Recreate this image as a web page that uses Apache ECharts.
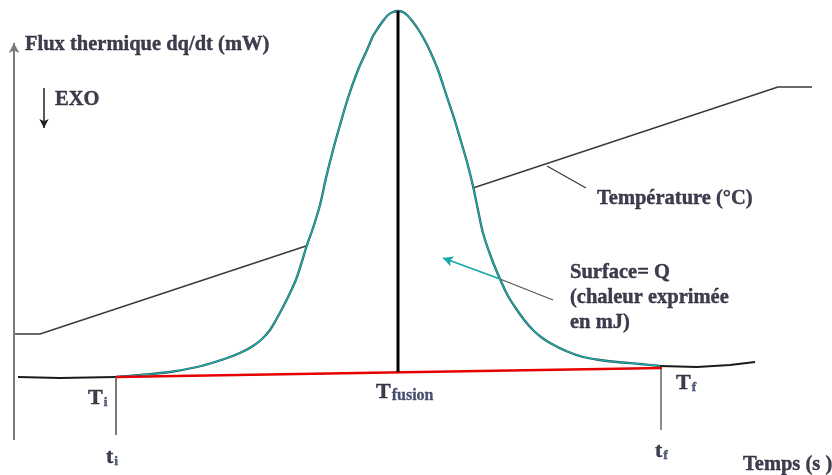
<!DOCTYPE html>
<html><head><meta charset="utf-8">
<script src="https://cdn.jsdelivr.net/npm/echarts@6/dist/echarts.min.js"></script>
<style>html,body{margin:0;padding:0;background:#fff}#c{width:832px;height:475px}</style>
</head><body><div id="c"></div>
<script>
// Schematic DSC curve: x = time units, y = heat-flux units
var baseLeft = [[18,98],[60,97],[116,98]];
var peakCurve = [[116,98],[140,100],[170,103],[197,108],[215,113],[230,118],[242,123],[253,129],[262,136],[270,145],[276,155],[283,168],[290,182],[297,198],[307,230],[313,247],[320,270],[326,297],[333,325],[340,350],[348,377],[358,405],[367,425],[373,439],[378,447],[383,454],[388,460],[393,463],[398,464],[403,463],[408,459],[413,453],[418,446],[424,436],[430,424],[438,405],[447,378],[454,357],[460,337],[467,313],[473,289],[478,265],[483,242],[491,218],[500,196],[508,179],[517,165],[525,154],[533,145],[541,138],[550,132],[566,124],[583,118],[600,115],[617,113],[640,111],[660,109]];
var baseRight = [[660,109],[697,108],[730,110],[755,113]];
var redBaseline = [[116,98],[662,107]];
var tempBefore = [[14,141],[40,141],[306,229]];
var tempAfter = [[473,287],[778,388],[812,388]];
var tempLeader = [[547,309],[586,287]];
var surfaceLeader = [[553,175],[500,196]];
var fusionLine = [[398,464],[398,103]];
var tiLine = [[116,98],[116,40]];
var tfLine = [[661,107],[661,45]];
var labels = [
  {x:25, y:430, text:'Flux thermique dq/dt (mW)'},
  {x:55, y:375, text:'EXO'},
  {x:597, y:276, text:'Température (°C)'},
  {x:570, y:177, text:'Surface= Q\n(chaleur exprimée\nen mJ)'},
  {x:88, y:77, text:'{T|T}{s|i}'},
  {x:376, y:83, text:'{T|T}{f|fusion}'},
  {x:676, y:92, text:'{T|T}{s|f}'},
  {x:106, y:18, text:'{T|t}{s|i}'},
  {x:655, y:24, text:'{T|t}{s|f}'},
  {x:743, y:10, text:'Temps (s )'}
];

var txtColor = '#0e0e22';
var font = 'Liberation Serif';
function lineSeries(data, color, width, extra) {
  var s = {type:'line', data:data, symbol:'none', silent:true, animation:false,
    lineStyle:{color:color, width:width}, z:2};
  for (var k in extra) s[k] = extra[k];
  return s;
}
function arrow(a, b, color, width, size) {
  return [{coord:a, symbol:'none'}, {coord:b, symbol:'arrow', symbolSize:size, lineStyle:{color:color, width:width, type:'solid'}}];
}

var chart = echarts.init(document.getElementById('c'), null, {renderer:'canvas'});
chart.setOption({
  backgroundColor:'#fff',
  animation:false,
  grid:{left:0, right:0, top:0, bottom:0},
  xAxis:{type:'value', min:0, max:832, show:false},
  yAxis:{type:'value', min:0, max:475, show:false},
  series:[
    lineSeries(tempBefore, '#3a3a3a', 1.4),
    lineSeries(tempAfter, '#3a3a3a', 1.4),
    lineSeries(tempLeader, '#3a3a3a', 1.3),
    lineSeries(surfaceLeader, '#555', 1.3),
    lineSeries(baseLeft, '#1a1a1a', 1.8),
    lineSeries(baseRight, '#1a1a1a', 1.8),
    lineSeries(peakCurve, '#2f5555', 2.3, {smooth:0.3, z:3}),
    lineSeries(peakCurve, '#14b8b8', 1.1, {smooth:0.3, z:4}),
    lineSeries(tiLine, '#7a7a7a', 2),
    lineSeries(tfLine, '#8a8a8a', 2),
    lineSeries(redBaseline, '#e60000', 2.6, {z:5}),
    lineSeries(fusionLine, '#000', 3, {z:6}),
    {
      type:'line', data:[], silent:true, animation:false,
      markLine:{
        silent:true, animation:false, precision:3,
        label:{show:false}, emphasis:{disabled:true},
        lineStyle:{type:'solid'},
        data:[
          arrow([14,35],[14,432], '#7a7a7a', 2, [8,10]),
          arrow([14,38],[833,46], '#7a7a7a', 2, [8,10]),
          arrow([44,387],[44,347], '#222', 1.5, [7,9]),
          arrow([500,196],[443,217], '#17a8a8', 1.8, [8,10])
        ]
      }
    },
    {
      type:'scatter', symbolSize:0, silent:true, animation:false, z:10,
      data: labels.map(function(l){ return {value:[l.x, l.y], name:l.text}; }),
      label:{
        show:true, position:'right', distance:0,
        formatter:function(p){ return p.name; },
        fontFamily:font, fontWeight:'bold', fontSize:20.5, color:txtColor, lineHeight:25,
        textBorderColor:txtColor, textBorderWidth:0.4,
        rich:{
          T:{fontFamily:font, fontWeight:'bold', fontSize:22, color:txtColor, verticalAlign:'bottom', lineHeight:23, textBorderColor:txtColor, textBorderWidth:0.4},
          s:{fontFamily:font, fontWeight:'bold', fontSize:13.5, color:'#2b3a6b', verticalAlign:'bottom', lineHeight:14, padding:[0,0,0,1]},
          f:{fontFamily:font, fontWeight:'bold', fontSize:16, color:'#1c2550', verticalAlign:'bottom', lineHeight:17, padding:[0,0,0,1], textBorderColor:'#1c2550', textBorderWidth:0.3}
        }
      }
    }
  ]
});
</script></body></html>
